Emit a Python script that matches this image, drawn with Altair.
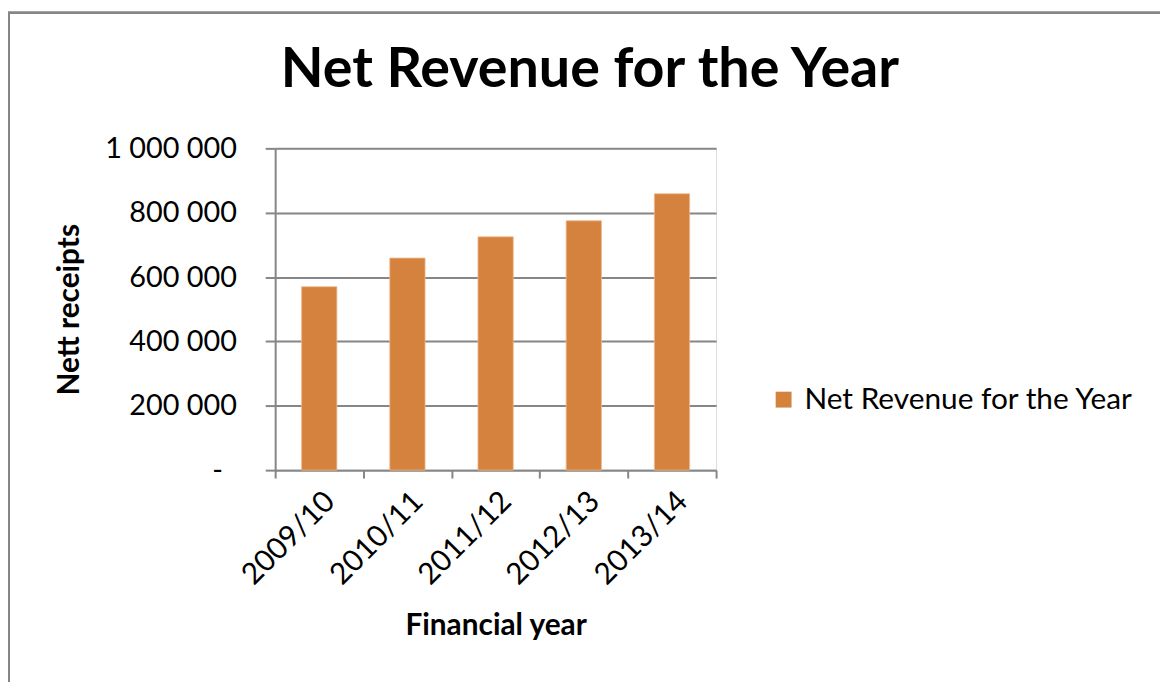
import altair as alt
import pandas as pd

years = ["2009/10", "2010/11", "2011/12", "2012/13", "2013/14"]
revenue = [570000, 659000, 725000, 775000, 859000]
series = ["Net Revenue for the Year"] * len(years)

df = pd.DataFrame({"year": years, "revenue": revenue, "series": series})

FONT = "Lato"
GRAY = "#868686"
ORANGE = "#D5823F"

base = alt.Chart(df)

frame = base.mark_rect(fill=None, stroke=GRAY, strokeWidth=2, clip=False).encode(
    x=alt.value(-268), x2=alt.value(1200), y=alt.value(-136.5), y2=alt.value(800)
)

bars = base.mark_bar(
    width=alt.RelativeBandSize(0.4), color=ORANGE, stroke="#EDB98C", strokeWidth=0.8
).encode(
    x=alt.X(
        "year:N",
        sort=years,
        scale=alt.Scale(paddingInner=0, paddingOuter=0),
        axis=alt.Axis(
            title="Financial year",
            tickBand="extent",
            labelAngle=-45,
            labelFont=FONT,
            labelFontSize=30,
            labelColor="#000000",
            labelPadding=8,
            tickSize=8,
            tickColor=GRAY,
            tickWidth=2,
            domainColor=GRAY,
            domainWidth=2,
            titleFont=FONT,
            titleFontSize=30,
            titleFontWeight="bold",
            titleColor="#000000",
            titleX=222,
            titleY=166,
            titleBaseline="alphabetic",
            titleAlign="center",
        ),
    ),
    y=alt.Y(
        "revenue:Q",
        scale=alt.Scale(domain=[0, 1000000], nice=False),
        axis=alt.Axis(
            title="Nett receipts",
            values=[0, 200000, 400000, 600000, 800000, 1000000],
            labelExpr="datum.value == 0 ? '-' : replace(format(datum.value, ',d'), regexp(',', 'g'), ' ')",
            labelFont=FONT,
            labelFontSize=29,
            labelColor="#000000",
            labelPadding={"condition": {"test": "datum.value == 0", "value": 43}, "value": 29},
            tickSize=10,
            tickColor=GRAY,
            tickWidth=2,
            domainColor=GRAY,
            domainWidth=2,
            grid=True,
            gridColor=GRAY,
            gridWidth=2,
            titleFont=FONT,
            titleFontSize=30,
            titleFontWeight="bold",
            titleColor="#000000",
            titleX=-207,
            titleY=162,
            titleAngle=-90,
            titleBaseline="middle",
            titleAlign="center",
        ),
    ),
    color=alt.Color(
        "series:N",
        scale=alt.Scale(range=[ORANGE]),
        legend=alt.Legend(
            title=None,
            orient="none",
            legendX=497,
            legendY=238,
            symbolType="square",
            symbolSize=256,
            symbolStrokeWidth=0,
            labelFont=FONT,
            labelFontSize=30,
            labelColor="#000000",
            labelLimit=500,
            padding=0,
            labelOffset=6,
        ),
    ),
)

chart = (
    alt.layer(frame, bars)
    .properties(
        width=444,
        height=324,
        autosize=alt.AutoSizeParams(type="none"),
        padding={"left": 269, "top": 139, "right": 447, "bottom": 211},
        title=alt.Title(
            "Net Revenue for the Year",
            font=FONT,
            fontSize=56,
            fontWeight="bold",
            color="#000000",
            anchor="middle",
            frame="group",
            baseline="alphabetic",
            dx=95,
            offset=-131.5,
        ),
    )
    .configure_view(stroke=None)
    .configure(background="white")
)

chart.save("out.html", embed_options={"renderer": "svg", "actions": False})
